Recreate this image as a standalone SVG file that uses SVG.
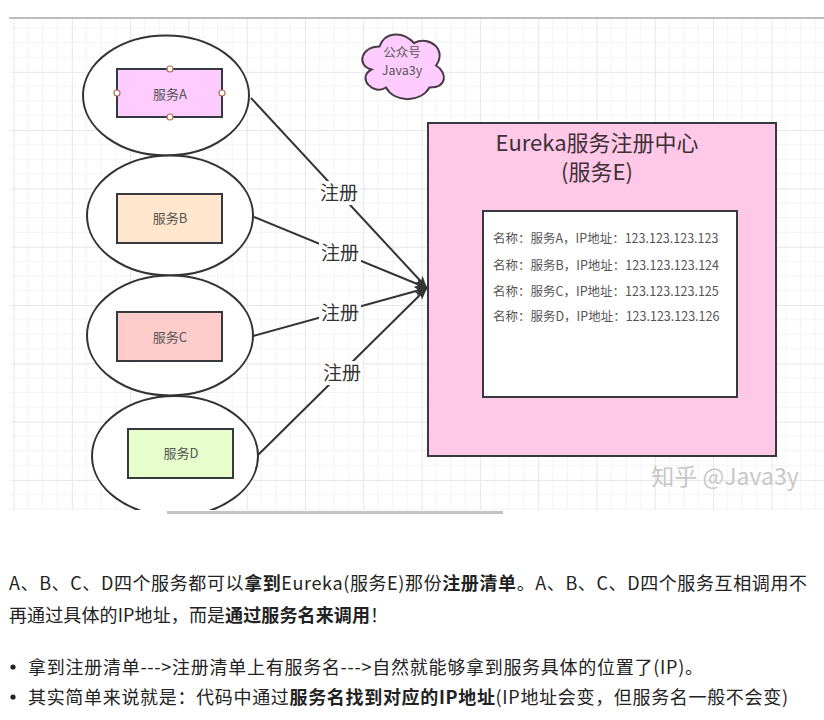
<svg xmlns="http://www.w3.org/2000/svg" width="824" height="720" viewBox="0 0 824 720">
<style>
.cjk{font-family:"Noto Sans CJK SC","Noto Sans",sans-serif}
.ell{fill:#fff;stroke:#333;stroke-width:2}
.box{stroke:#36393d;stroke-width:2}
.svc{font-size:13px;fill:#555;text-anchor:middle}
.lbl{font-size:19px;fill:#333;text-anchor:middle}
.lblbg{fill:#fff}
.conn{stroke:#333;stroke-width:2;fill:none}
.cp{fill:#fff;stroke:#b86b5a;stroke-width:1.2}
.row{font-size:12.5px;fill:#555}
.body{font-size:18px;fill:#222}
.b{font-weight:bold}
.dot{fill:#222}
</style>
<defs>
<pattern id="grid" width="58.3" height="58.3" patternUnits="userSpaceOnUse" x="13.5" y="13.5">
<path d="M14.58,0V58.3M29.15,0V58.3M43.73,0V58.3M0,14.58H58.3M0,29.15H58.3M0,43.73H58.3" stroke="#f3f3f3" stroke-width="1" fill="none"/>
<path d="M0.5,0V58.3M0,0.5H58.3" stroke="#e6e6e6" stroke-width="1" fill="none"/>
</pattern>
<marker id="arr" viewBox="0 0 12 10" refX="12" refY="5" markerWidth="12" markerHeight="10" markerUnits="userSpaceOnUse" orient="auto">
<path d="M0,0L12,5L0,10L3,5Z" fill="#333"/>
</marker>
<clipPath id="canvas"><rect x="0" y="18" width="824" height="492"/></clipPath>
</defs>
<rect width="824" height="720" fill="#fff"/>
<rect x="10" y="18" width="814" height="492" fill="url(#grid)"/>
<line x1="9" y1="18" x2="824" y2="18" stroke="#a8a8a8" stroke-width="1.5"/>
<rect x="167" y="511" width="336" height="3" fill="#c4c4c4"/>
<g clip-path="url(#canvas)">
<g id="connectors">
<line class="conn" x1="251" y1="98" x2="427" y2="288" marker-end="url(#arr)"/>
<line class="conn" x1="254" y1="217" x2="427" y2="288" marker-end="url(#arr)"/>
<line class="conn" x1="253" y1="336" x2="427" y2="288" marker-end="url(#arr)"/>
<line class="conn" x1="258" y1="455" x2="427" y2="288" marker-end="url(#arr)"/>
<rect class="lblbg" x="318" y="181" width="42" height="24"/>
<text class="cjk lbl" x="339" y="200">注册</text>
<rect class="lblbg" x="319" y="241" width="42" height="24"/>
<text class="cjk lbl" x="340" y="260">注册</text>
<rect class="lblbg" x="319" y="301" width="42" height="24"/>
<text class="cjk lbl" x="340" y="320">注册</text>
<rect class="lblbg" x="321" y="361" width="42" height="24"/>
<text class="cjk lbl" x="342" y="380">注册</text>
</g>
<g id="serviceA">
<ellipse class="ell" cx="166" cy="95.5" rx="83" ry="60"/>
<rect class="box" x="117" y="69" width="105" height="48" fill="#ffccff"/>
<text class="cjk svc" x="170" y="98.5">服务A</text>
<circle class="cp" cx="117" cy="93" r="3"/>
<circle class="cp" cx="222" cy="93" r="3"/>
<circle class="cp" cx="170" cy="69" r="3"/>
<circle class="cp" cx="170" cy="117" r="3"/>
</g>
<g id="serviceB">
<ellipse class="ell" cx="170" cy="215.5" rx="83" ry="60"/>
<rect class="box" x="117" y="194" width="105" height="49" fill="#ffe6cc"/>
<text class="cjk svc" x="170" y="223">服务B</text>
</g>
<g id="serviceC">
<ellipse class="ell" cx="170" cy="335.5" rx="83" ry="60"/>
<rect class="box" x="117" y="312" width="105" height="49" fill="#ffcccc"/>
<text class="cjk svc" x="170" y="342">服务C</text>
</g>
<g id="serviceD">
<ellipse class="ell" cx="175" cy="456" rx="83" ry="60"/>
<rect class="box" x="128" y="429" width="105" height="49" fill="#e6ffcc"/>
<text class="cjk svc" x="181" y="458">服务D</text>
</g>
<g id="cloud">
<path d="M379.5,46.5 C361,46.5 356,65.5 371.5,69.5 C356,78 374,96 386,87.5 C394.5,103 420.5,103 429.5,87.5 C447.5,87.5 447.5,72.5 436,65.5 C447.5,50 429.5,35 414,43 C403,31 385,31 379.5,46.5 Z" fill="#ffccff" stroke="#4a3a48" stroke-width="2"/>
<text class="cjk" x="402" y="57" font-size="12.5" fill="#555" text-anchor="middle">公众号</text>
<text class="cjk" x="402" y="75" font-size="12.5" fill="#555" text-anchor="middle">Java3y</text>
</g>
<g id="eureka">
<rect class="box" x="428" y="123" width="348" height="333" fill="#ffc8e6"/>
<text class="cjk" x="597" y="151" font-size="22" fill="#3d3039" text-anchor="middle">Eureka服务注册中心</text>
<text class="cjk" x="597" y="180" font-size="22" fill="#3d3039" text-anchor="middle">(服务E)</text>
<rect class="box" x="483" y="211" width="254" height="186" fill="#fff"/>
<text class="cjk row" x="493" y="243">名称：服务A，IP地址：123.123.123.123</text>
<text class="cjk row" x="493" y="270">名称：服务B，IP地址：123.123.123.124</text>
<text class="cjk row" x="493" y="296">名称：服务C，IP地址：123.123.123.125</text>
<text class="cjk row" x="493" y="321">名称：服务D，IP地址：123.123.123.126</text>
</g>
<text class="cjk" x="725" y="485" font-size="23" fill="#c8c8c8" text-anchor="middle">知乎 @Java3y</text>
</g>
<g id="caption">
<text class="cjk body" x="9" y="590" textLength="798" lengthAdjust="spacing">A、B、C、D四个服务都可以<tspan class="b">拿到</tspan>Eureka(服务E)那份<tspan class="b">注册清单</tspan>。A、B、C、D四个服务互相调用不</text>
<text class="cjk body" x="9" y="622" textLength="379" lengthAdjust="spacing">再通过具体的IP地址，而是<tspan class="b">通过服务名来调用</tspan>！</text>
<circle class="dot" cx="13" cy="667" r="2.6"/>
<text class="cjk body" x="28" y="674" textLength="675" lengthAdjust="spacing">拿到注册清单---&gt;注册清单上有服务名---&gt;自然就能够拿到服务具体的位置了(IP)。</text>
<circle class="dot" cx="13" cy="697" r="2.6"/>
<text class="cjk body" x="28" y="704" textLength="760" lengthAdjust="spacing">其实简单来说就是：代码中通过<tspan class="b">服务名找到对应的IP地址</tspan>(IP地址会变，但服务名一般不会变)</text>
</g>
</svg>
